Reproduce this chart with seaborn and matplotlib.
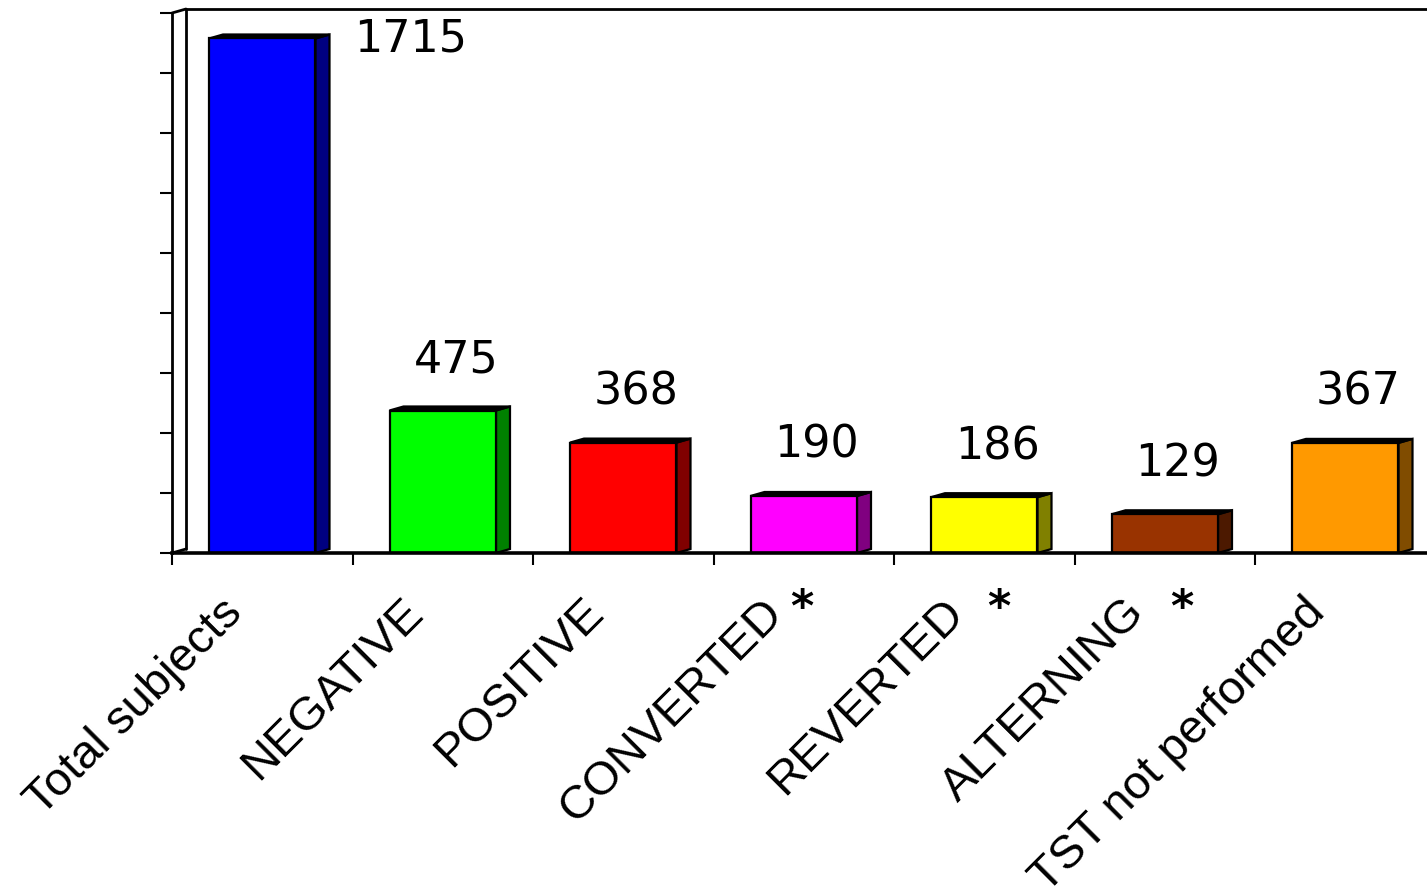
import matplotlib
matplotlib.use("Agg")
import numpy as np
import pandas as pd
import seaborn as sns
import matplotlib.pyplot as plt
from matplotlib.patches import Polygon
from matplotlib.transforms import ScaledTranslation

# ---- data ----
categories = ["Total subjects", "NEGATIVE", "POSITIVE", "CONVERTED", "REVERTED",
              "ALTERNING", "TST not performed"]
counts = [1715, 475, 368, 190, 186, 129, 367]
starred = ["CONVERTED", "REVERTED", "ALTERNING"]
front_colors = ["#0000FF", "#00FF00", "#FF0000", "#FF00FF", "#FFFF00", "#993300", "#FF9900"]
side_colors = ["#000080", "#008000", "#800000", "#800080", "#808000", "#4C1900", "#804C00"]
y_ticks = list(range(0, 1801, 200))

# ---- figure ----
sns.set_theme(style="white")
plt.rcParams["font.family"] = ["DejaVu Sans"]
W, H, DPI = 1427, 886, 100
fig = plt.figure(figsize=(W / DPI, H / DPI), dpi=DPI)
ax_left_px, ax_bottom_px, ax_w_px, ax_h_px = 172, 886 - 553, 1263.5, 540
ax = fig.add_axes([ax_left_px / W, ax_bottom_px / H, ax_w_px / W, ax_h_px / H])

df = pd.DataFrame({"cat": categories, "n": counts})
sns.barplot(data=df, x="cat", y="n", hue="cat", palette=front_colors, width=0.59,
            saturation=1, edgecolor="black", linewidth=1.6, legend=False, ax=ax)

ax.set_xlim(-0.5, 6.5)
ax.set_ylim(0, 1800)

# depth of the pseudo-3D effect, converted from pixels to data units
depth_px, rise_px = 14, 4
dx = depth_px * 7 / ax_w_px
dy = rise_px * 1800 / ax_h_px

for i, cont in enumerate(ax.containers):
    for bar in cont:
        x0 = bar.get_x()
        w = bar.get_width()
        h = bar.get_height()
        x1 = x0 + w
        side = Polygon([(x1, 0), (x1 + dx, dy), (x1 + dx, h + dy), (x1, h)],
                       closed=True, fc=side_colors[i], ec="black", lw=1.6,
                       zorder=bar.get_zorder() - 0.1)
        top = Polygon([(x0, h), (x0 + dx, h + dy), (x1 + dx, h + dy), (x1, h)],
                      closed=True, fc="black", ec="black", lw=1.6,
                      zorder=bar.get_zorder() - 0.1)
        ax.add_patch(side)
        ax.add_patch(top)

# back wall / frame lines
xw = -0.5 + dx
line_kw = dict(color="black", lw=2.0, clip_on=False, zorder=0.5)
ax.plot([xw, xw], [dy, 1800 + dy], **line_kw)
ax.plot([-0.5, xw], [1800, 1800 + dy], **line_kw)
ax.plot([xw, 6.6], [1800 + dy, 1800 + dy], **line_kw)
ax.plot([-0.5, xw], [0, dy], **line_kw)

# spines & ticks
for s in ["top", "right"]:
    ax.spines[s].set_visible(False)
ax.spines["left"].set_linewidth(2.0)
ax.spines["left"].set_color("black")
ax.spines["bottom"].set_linewidth(2.6)
ax.spines["bottom"].set_color("black")

ax.set_yticks(y_ticks)
ax.set_yticklabels([])
ax.tick_params(axis="y", left=True, direction="out", length=8.6, width=1.5, color="black")
ax.set_xticks(range(len(categories)))
ax.set_xticklabels([])
ax.set_xticks(np.arange(-0.5, len(categories) - 0.5, 1), minor=True)
ax.tick_params(axis="x", which="major", length=0, pad=0)
ax.tick_params(axis="x", which="minor", bottom=True, direction="out", length=8.6,
               width=1.5, color="black")
ax.set_xlabel("")
ax.set_ylabel("")
ax.grid(False)

# category labels (rotated)
px = 1 / DPI
xtr = ax.get_xaxis_transform()
for i, cat in enumerate(categories):
    ax.text(i, 0, cat, transform=xtr + ScaledTranslation(-27 * px, -53 * px, fig.dpi_scale_trans),
            rotation=45, ha="right", va="center", rotation_mode="anchor",
            fontsize=34, family=["Liberation Sans", "DejaVu Sans"], color="black")

# upright asterisks next to some labels
star_dx = {"CONVERTED": -2, "REVERTED": 15, "ALTERNING": 17}
for i, cat in enumerate(categories):
    if cat in starred:
        ax.text(i, 0, "*", transform=xtr + ScaledTranslation(star_dx[cat] * px, -68 * px,
                                                               fig.dpi_scale_trans),
                ha="center", va="baseline", fontsize=32, fontweight="bold", color="black")

# value labels
for i, v in enumerate(counts):
    if v >= 1700:
        off = (148, -13)
    else:
        off = (13, 38)
    ax.annotate(str(v), xy=(i, v), xytext=off, textcoords="offset pixels",
                ha="center", va="baseline", fontsize=32, color="black",
                annotation_clip=False)

fig.savefig("out.png", dpi=DPI)
